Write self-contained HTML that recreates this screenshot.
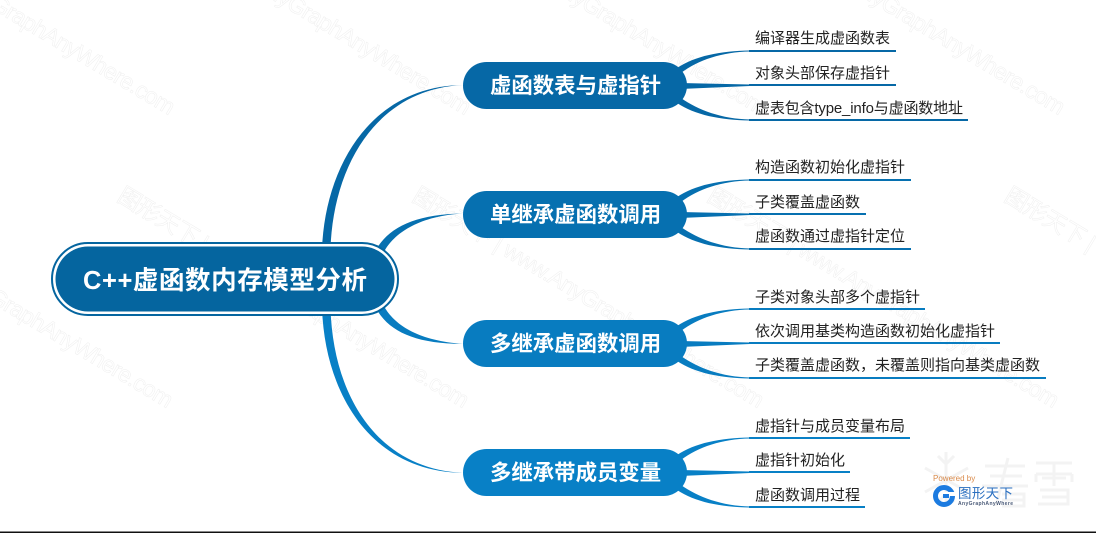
<!DOCTYPE html>
<html>
<head>
<meta charset="utf-8">
<style>
html,body{margin:0;padding:0;background:#fff;width:1096px;height:533px;overflow:hidden}
svg{display:block}
text{font-family:"Liberation Sans","Noto Sans CJK SC",sans-serif}
.wm{font-size:23px;fill:#fff;stroke:#efefef;stroke-width:.5}
.leaf{font-size:15px;fill:#222}
.br{font-size:21.400px;font-weight:bold;fill:#fff}
</style>
</head>
<body>
<svg width="1096" height="533" viewBox="0 0 1096 533" xmlns="http://www.w3.org/2000/svg">
<rect width="1096" height="533" fill="#fff"/>
<g>
<text class="wm" transform="translate(-178,-93) rotate(31)" textLength="405">图形天下 | www.AnyGraphAnyWhere.com</text>
<text class="wm" transform="translate(118,-93) rotate(31)" textLength="405">图形天下 | www.AnyGraphAnyWhere.com</text>
<text class="wm" transform="translate(413,-93) rotate(31)" textLength="405">图形天下 | www.AnyGraphAnyWhere.com</text>
<text class="wm" transform="translate(712,-93) rotate(31)" textLength="405">图形天下 | www.AnyGraphAnyWhere.com</text>
<text class="wm" transform="translate(-180,200) rotate(31)" textLength="405">图形天下 | www.AnyGraphAnyWhere.com</text>
<text class="wm" transform="translate(116,200) rotate(31)" textLength="405">图形天下 | www.AnyGraphAnyWhere.com</text>
<text class="wm" transform="translate(411,200) rotate(31)" textLength="405">图形天下 | www.AnyGraphAnyWhere.com</text>
<text class="wm" transform="translate(706,200) rotate(31)" textLength="405">图形天下 | www.AnyGraphAnyWhere.com</text>
<text class="wm" transform="translate(1003,200) rotate(31)" textLength="405">图形天下 | www.AnyGraphAnyWhere.com</text>
</g>

<!-- kanxue faint watermark -->
<g fill="none" stroke="#f3f3f3" stroke-width="3">
<path d="M946 452V506M925 468L968 492M925 492L968 468M938 456L946 464L954 456M938 502L946 494L954 502"/>
<path d="M985 466H1025M990 476H1022M982 486H1028M1008 458L996 506M1002 494H1024V506H1002M1002 500H1024"/>
<path d="M1036 463H1072M1036 474V482M1072 474V482M1036 474H1072M1054 463V486M1042 478H1066M1040 490H1068V504H1038M1042 497H1068"/>
</g>

<!-- trunk connectors -->
<path d="M322 250C325 165 372 86 463 85C377 89 333 165 330.500 250Z" fill="#0668a6"/>
<path d="M376 250C388 228 415 214 463 213.500C420 216 396 232 385 250Z" fill="#0670b0"/>
<path d="M322 308C325 395 372 472 463 472.800C377 469 333 395 330.500 308Z" fill="#0880c6"/>
<path d="M376 308C388 331 415 344 463 343.800C420 341 396 326 385 308Z" fill="#087cc0"/>

<!-- root -->
<rect x="52" y="243" width="346" height="72" rx="36" fill="#fff" stroke="#05659f" stroke-width="2"/>
<rect x="55.500" y="246.500" width="339" height="65" rx="32.500" fill="#05659f"/>
<text x="83" y="289" font-size="25.500" font-weight="bold" fill="#fff" textLength="284">C++虚函数内存模型分析</text>

<!-- branch 1 -->
<g fill="#0668a6" stroke="none">
<path d="M677 68C695 56 720 51 750 50.500V51.500C722 52 698 60 681 73Z"/>
<path d="M680 83L750 84.500V86L680 89Z"/>
<path d="M681 98C698 110 722 119 750 119.500V120.500C720 120 695 115 677 103Z"/>
<rect x="749" y="50" width="147" height="2"/>
<rect x="749" y="84" width="147" height="2"/>
<rect x="749" y="119" width="219" height="2"/>
<rect x="463" y="62" width="224" height="47" rx="23.500"/>
</g>
<text class="br" x="490" y="93">虚函数表与虚指针</text>
<text class="leaf" x="755" y="43">编译器生成虚函数表</text>
<text class="leaf" x="755" y="78">对象头部保存虚指针</text>
<text class="leaf" x="755" y="113" textLength="208">虚表包含type_info与虚函数地址</text>

<!-- branch 2 -->
<g fill="#0670b0">
<path d="M677 197C695 185 720 180 750 179.500V180.500C722 181 698 189 681 202Z"/>
<path d="M680 212L750 213.500V215L680 218Z"/>
<path d="M681 227C698 239 722 248 750 248.500V249.500C720 249 695 244 677 232Z"/>
<rect x="749" y="179" width="162" height="2"/>
<rect x="749" y="213" width="117" height="2"/>
<rect x="749" y="248" width="162" height="2"/>
<rect x="463" y="191" width="224" height="47" rx="23.500"/>
</g>
<text class="br" x="490" y="222">单继承虚函数调用</text>
<text class="leaf" x="755" y="172">构造函数初始化虚指针</text>
<text class="leaf" x="755" y="207">子类覆盖虚函数</text>
<text class="leaf" x="755" y="241">虚函数通过虚指针定位</text>

<!-- branch 3 -->
<g fill="#087cc0">
<path d="M677 326C695 314 720 309 750 308.500V309.500C722 310 698 318 681 331Z"/>
<path d="M680 341L750 342.500V344L680 347Z"/>
<path d="M681 356C698 368 722 377 750 377.500V378.500C720 378 695 373 677 361Z"/>
<rect x="749" y="308" width="176" height="2"/>
<rect x="749" y="342" width="251" height="2"/>
<rect x="749" y="377" width="297" height="2"/>
<rect x="463" y="320" width="224" height="47" rx="23.500"/>
</g>
<text class="br" x="490" y="351">多继承虚函数调用</text>
<text class="leaf" x="755" y="302">子类对象头部多个虚指针</text>
<text class="leaf" x="755" y="336">依次调用基类构造函数初始化虚指针</text>
<text class="leaf" x="755" y="370">子类覆盖虚函数，未覆盖则指向基类虚函数</text>

<!-- branch 4 -->
<g fill="#0880c6">
<path d="M677 455C695 443 720 438 750 437.500V438.500C722 439 698 447 681 460Z"/>
<path d="M680 470L750 471.500V473L680 476Z"/>
<path d="M681 485C698 497 722 506 750 506.500V507.500C720 507 695 502 677 490Z"/>
<rect x="749" y="437" width="161" height="2"/>
<rect x="749" y="471" width="101" height="2"/>
<rect x="749" y="506" width="116" height="2"/>
<rect x="463" y="449" width="224" height="47" rx="23.500"/>
</g>
<text class="br" x="490" y="480">多继承带成员变量</text>
<text class="leaf" x="755" y="431">虚指针与成员变量布局</text>
<text class="leaf" x="755" y="465">虚指针初始化</text>
<text class="leaf" x="755" y="500">虚函数调用过程</text>

<!-- logo -->
<text x="933" y="481" font-size="8" fill="#d98a4a">Powered by</text>
<circle cx="944" cy="496" r="8.500" fill="none" stroke="#1c7be0" stroke-width="5"/>
<rect x="944" y="492" width="11" height="4" fill="#fff"/>
<rect x="943" y="494" width="6" height="4" fill="#1c7be0"/>
<text x="958" y="498" font-size="13.500" fill="#2a6fc0" textLength="55">图形天下</text>
<text x="958" y="505" font-size="5" font-weight="bold" fill="#4a5a78" textLength="55">AnyGraphAnyWhere</text>

<rect x="0" y="531.500" width="1096" height="1.500" fill="#111"/>
</svg>
</body>
</html>
